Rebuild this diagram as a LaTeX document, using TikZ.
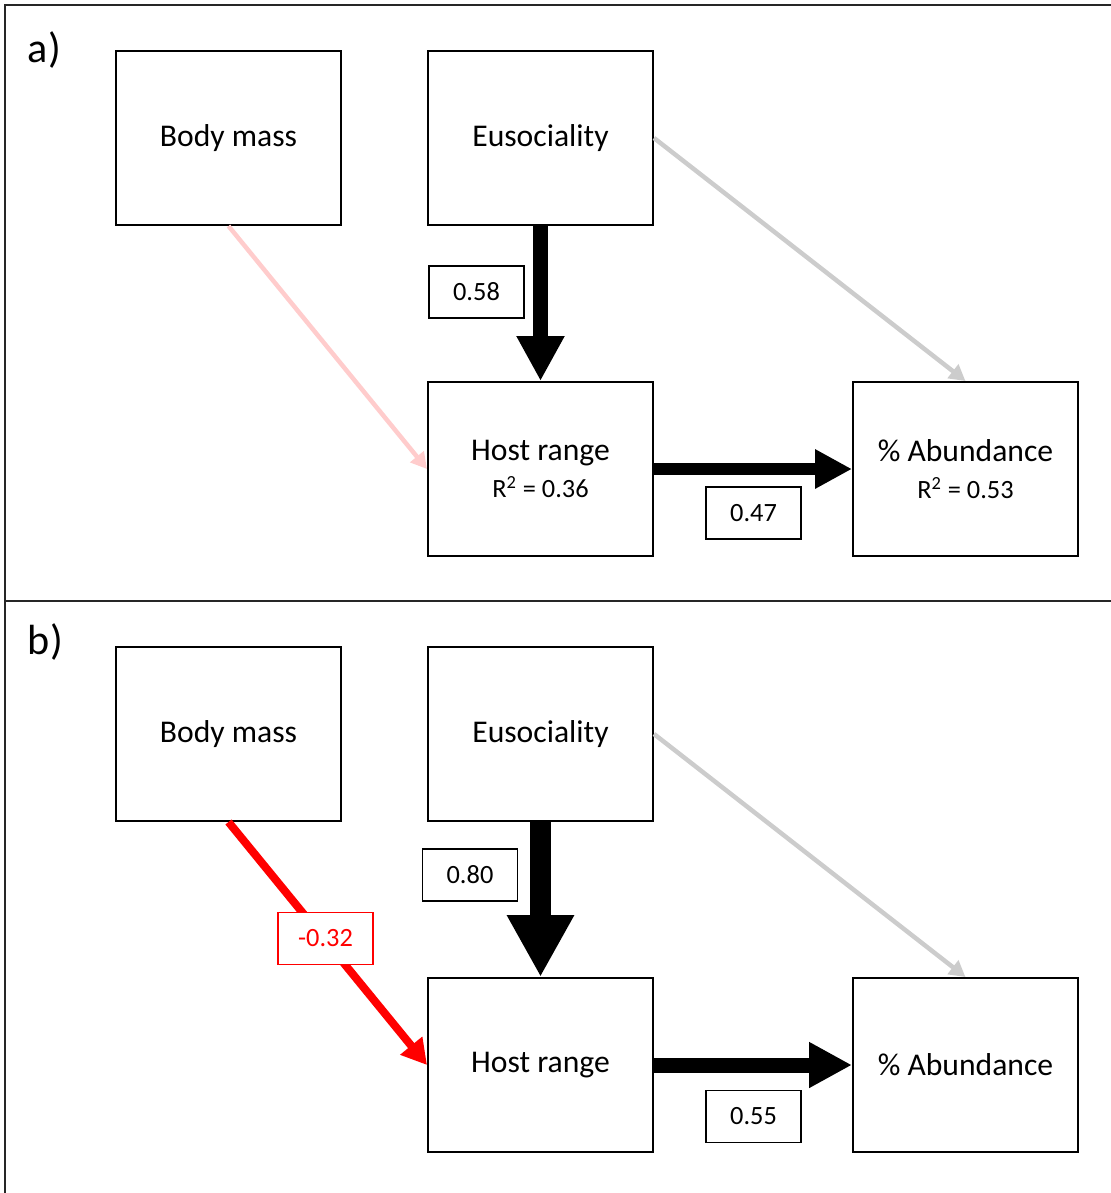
\documentclass[tikz,border=0pt]{standalone}
\usepackage{fontspec}
\setmainfont{Carlito}
\usepackage{tikz}
\usetikzlibrary{positioning}
\usetikzlibrary{arrows.meta}
\definecolor{pathpink}{RGB}{255,204,204}
\definecolor{pathgray}{RGB}{204,204,204}
\newcommand{\rsq}[1]{{\fontsize{15}{18}\selectfont R\textsuperscript{2} = #1}}

\begin{document}
\begin{tikzpicture}
	[node distance={1.7cm}, line width=0.04cm,
	main/.style = {draw, minimum width=4.5cm, minimum height=3.48cm, align=center, font=\fontsize{18}{21}\selectfont},
	coef/.style = {draw, fill=white, line width=0.03cm, minimum width=1.9cm, minimum height=1.04cm, font=\fontsize{15}{18}\selectfont},
	panel/.style = {anchor=west, inner sep=0pt, font=\fontsize{24}{28}\selectfont},
	weak/.style = {line width=0.09cm, -{Triangle[length=0.32cm, width=0.34cm]}}]
	\useasboundingbox (0,0) rectangle (22.22,-23.86);
	\draw[black!85, line width=0.05cm] (22.22,-0.1) -- (0.1,-0.1) -- (0.1,-23.86);
	\draw[black!85, line width=0.05cm] (0.1,-12.02) -- (22.22,-12.02);
	\node[panel] (pa) at (0.54,-1.0) {a)};
	\node[panel] (pb) at (0.54,-12.84) {b)};
	\node[main] (a1) at (4.57,-2.76) {Body mass};
	\node[main] (a2) [right=of a1] {Eusociality};
	\node[main] (a3) [below=3.1cm of a2] {Host range\\\rsq{0.36}};
	\node[main] (a4) [right=3.96cm of a3] {\% Abundance\\\rsq{0.53}};
	\draw[weak, pathpink] (a1.south) -- (a3.west);
	\draw[weak, pathgray] (a2.east) -- (a4.north);
	\draw[line width=0.3cm, -{Triangle[length=0.9cm, width=0.9cm]}] (a2) -- (a3);
	\draw[line width=0.24cm, -{Triangle[length=0.74cm, width=0.74cm]}] (a3) -- (a4);
	\node[coef] (ca1) at (9.53,-5.84) {0.58};
	\node[coef] (ca2) at (15.07,-10.26) {0.47};
	\node[main] (b1) at (4.57,-14.68) {Body mass};
	\node[main] (b2) [right=of b1] {Eusociality};
	\node[main] (b3) [below=3.1cm of b2] {Host range};
	\node[main] (b4) [right=3.96cm of b3] {\% Abundance};
	\draw[red, line width=0.16cm, -{Triangle[length=0.5cm, width=0.54cm]}] (b1.south) -- (b3.west);
	\draw[weak, pathgray] (b2.east) -- (b4.north);
	\draw[line width=0.42cm, -{Triangle[length=1.24cm, width=1.26cm]}] (b2) -- (b3);
	\draw[line width=0.3cm, -{Triangle[length=0.86cm, width=0.86cm]}] (b3) -- (b4);
	\node[coef] (cb1) at (9.40,-17.50) {0.80};
	\node[coef, draw=red, text=red] (cb2) at (6.51,-18.77) {-0.32};
	\node[coef] (cb3) at (15.07,-22.33) {0.55};
\end{tikzpicture}
\end{document}
